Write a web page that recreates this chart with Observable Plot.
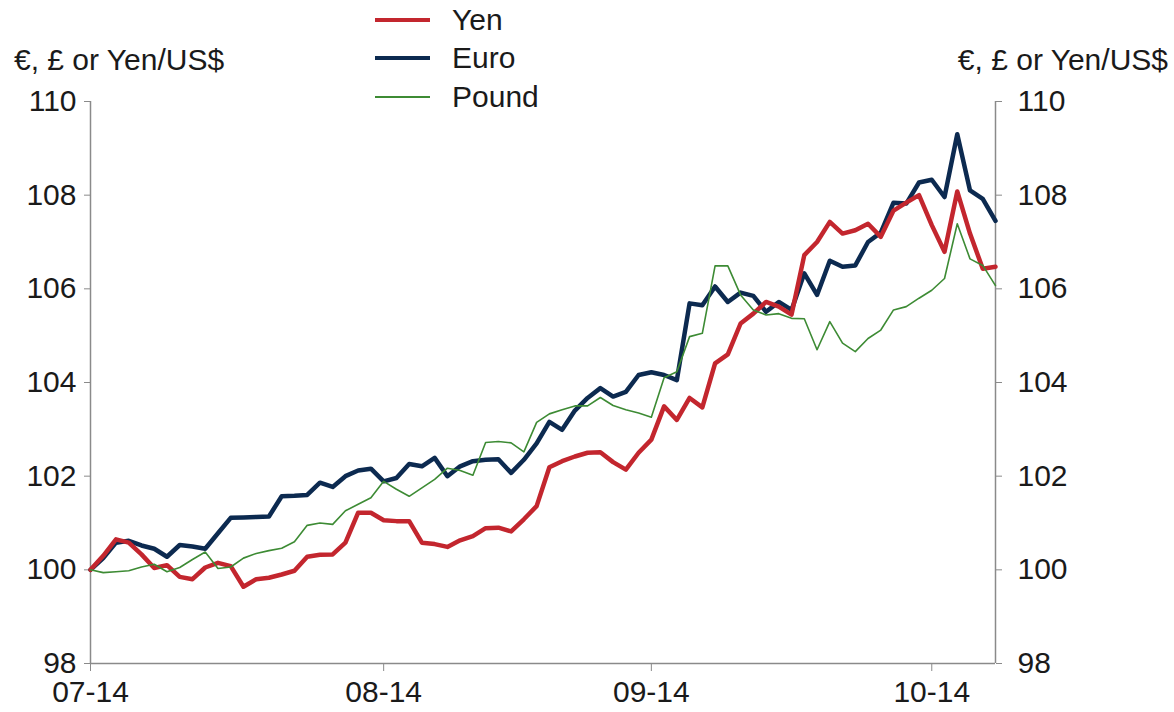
<!DOCTYPE html>
<html>
<head>
<meta charset="utf-8">
<script src="https://cdn.jsdelivr.net/npm/d3@7"></script>
<script src="https://cdn.jsdelivr.net/npm/@observablehq/plot@0.6"></script>
<style>
  html, body { margin: 0; padding: 0; background: #fff; }
  #wrap { position: relative; width: 1174px; height: 712px; font-family: "Liberation Sans", Arial, sans-serif; color: #1a1a1a; }
  #chart { position: absolute; left: 0; top: 0; }
  .lbl { position: absolute; font-size: 30px; line-height: 1; white-space: nowrap; }
  .sw { position: absolute; left: 375px; width: 55px; }
</style>
</head>
<body>
<div id="wrap">
  <div id="chart"></div>
</div>
<script>
const tickLabels = ["07-14", "08-14", "09-14", "10-14"];
const tickIndex = [0, 23, 44, 66];
const yTicks = [98, 100, 102, 104, 106, 108, 110];
const seriesNames = ["Yen", "Euro", "Pound"];
const seriesColors = ["#c3262e", "#0c2a50", "#3d8b34"];

const yen = [100.0, 100.3, 100.65, 100.58, 100.33, 100.04, 100.1, 99.85, 99.8, 100.05, 100.15, 100.08, 99.64, 99.8, 99.83, 99.9, 99.98, 100.28, 100.32, 100.33, 100.58, 101.22, 101.22, 101.06, 101.04, 101.04, 100.58, 100.55, 100.49, 100.63, 100.72, 100.89, 100.9, 100.82, 101.08, 101.36, 102.19, 102.32, 102.42, 102.5, 102.51, 102.3, 102.14, 102.5, 102.78, 103.49, 103.2, 103.67, 103.47, 104.41, 104.6, 105.26, 105.47, 105.72, 105.62, 105.45, 106.72, 107.0, 107.43, 107.18, 107.25, 107.39, 107.11, 107.67, 107.84, 108.0, 107.36, 106.79, 108.08, 107.18, 106.43, 106.47];
const euro = [100.0, 100.25, 100.58, 100.62, 100.52, 100.45, 100.28, 100.53, 100.5, 100.45, 100.78, 101.11, 101.12, 101.13, 101.14, 101.57, 101.58, 101.6, 101.86, 101.77, 102.0, 102.12, 102.16, 101.89, 101.96, 102.26, 102.21, 102.39, 102.0, 102.21, 102.32, 102.35, 102.36, 102.07, 102.35, 102.7, 103.16, 102.99, 103.4, 103.67, 103.88, 103.7, 103.8, 104.16, 104.22, 104.16, 104.05, 105.69, 105.65, 106.05, 105.72, 105.92, 105.85, 105.51, 105.72, 105.55, 106.33, 105.87, 106.6, 106.47, 106.5, 107.0, 107.2, 107.84, 107.82, 108.27, 108.33, 107.96, 109.3, 108.1, 107.92, 107.45];
const pound = [100.0, 99.94, 99.96, 99.98, 100.06, 100.12, 99.96, 100.05, 100.22, 100.38, 100.03, 100.06, 100.25, 100.35, 100.41, 100.46, 100.6, 100.95, 101.0, 100.97, 101.26, 101.4, 101.54, 101.89, 101.72, 101.57, 101.75, 101.93, 102.17, 102.12, 102.02, 102.72, 102.74, 102.71, 102.52, 103.15, 103.33, 103.42, 103.5, 103.5, 103.68, 103.51, 103.42, 103.35, 103.26, 104.1, 104.23, 104.98, 105.05, 106.49, 106.49, 105.87, 105.55, 105.44, 105.47, 105.37, 105.36, 104.7, 105.3, 104.84, 104.66, 104.94, 105.12, 105.55, 105.62, 105.8, 105.97, 106.22, 107.39, 106.64, 106.5, 106.07];

const toRows = (arr) => arr.map((v, i) => ({i, v}));
const lastIndex = euro.length - 1;
const axisColor = "#8a8a8a";
const textColor = "#1a1a1a";

const chart = Plot.plot({
  width: 1174,
  height: 712,
  marginLeft: 90,
  marginRight: 179,
  marginTop: 101,
  marginBottom: 49,
  style: { fontFamily: "Liberation Sans, Arial, sans-serif", fontSize: "30px", color: textColor, background: "transparent" },
  x: { type: "linear", domain: [0, lastIndex] },
  y: { domain: [98, 110] },
  marks: [
    Plot.ruleX([0], { stroke: axisColor, strokeWidth: 1.5 }),
    Plot.ruleX([lastIndex], { stroke: axisColor, strokeWidth: 1.5 }),
    Plot.ruleY([98], { stroke: axisColor, strokeWidth: 1.5 }),
    Plot.axisY({ anchor: "left", ticks: yTicks, tickSize: 6, tickPadding: 8, stroke: axisColor, fill: textColor, label: null, fontSize: 30 }),
    Plot.axisY({ anchor: "right", ticks: yTicks, tickSize: 6, tickPadding: 16, stroke: axisColor, fill: textColor, label: null, fontSize: 30 }),
    Plot.axisX({ ticks: tickIndex, tickFormat: (d) => tickLabels[tickIndex.indexOf(d)], tickSize: 8, tickPadding: 9, stroke: axisColor, fill: textColor, label: null, fontSize: 30 }),
    Plot.line(toRows(euro), { x: "i", y: "v", stroke: seriesColors[1], strokeWidth: 4.5 }),
    Plot.line(toRows(yen), { x: "i", y: "v", stroke: seriesColors[0], strokeWidth: 4.5 }),
    Plot.line(toRows(pound), { x: "i", y: "v", stroke: seriesColors[2], strokeWidth: 1.6 })
  ]
});
document.getElementById("chart").appendChild(chart);

const wrap = document.getElementById("wrap");
function addLabel(text, style) {
  const d = document.createElement("div");
  d.className = "lbl";
  d.textContent = text;
  Object.assign(d.style, style);
  wrap.appendChild(d);
}
addLabel("€, £ or Yen/US$", { left: "14px", top: "45px" });
addLabel("€, £ or Yen/US$", { right: "6px", top: "45px" });

const legendY = [20, 58, 97];
const legendW = [4.5, 4.5, 1.6];
seriesNames.forEach((name, k) => {
  const sw = document.createElement("div");
  sw.className = "sw";
  sw.style.top = (legendY[k] - legendW[k] / 2) + "px";
  sw.style.height = legendW[k] + "px";
  sw.style.background = seriesColors[k];
  wrap.appendChild(sw);
  addLabel(name, { left: "452px", top: (legendY[k] - 15) + "px" });
});
</script>
</body>
</html>
